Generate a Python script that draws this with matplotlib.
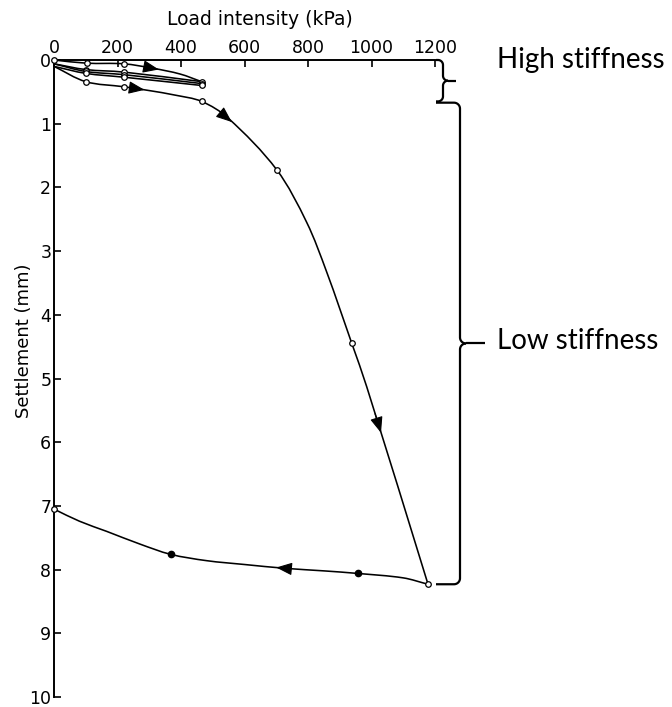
import numpy as np
import matplotlib
matplotlib.use("Agg")
import matplotlib.pyplot as plt
from matplotlib.lines import Line2D
from matplotlib.path import Path
from matplotlib.patches import PathPatch
from matplotlib.transforms import IdentityTransform

# ---- plate load test data: load intensity (kPa) vs settlement (mm) ----
# first loading
load_first = [0, 103, 220, 312, 397, 465]
settle_first = [0.00, 0.05, 0.06, 0.13, 0.22, 0.34]

# small unload / reload cycles
load_unload1 = [465, 220, 100, 0]
settle_unload1 = [0.34, 0.19, 0.15, 0.06]
load_reload1 = [0, 100, 220, 465]
settle_reload1 = [0.06, 0.18, 0.23, 0.37]
load_unload2 = [465, 220, 100, 0]
settle_unload2 = [0.40, 0.27, 0.21, 0.10]

# final reload and loading to peak
load_main = [0, 100, 220, 300, 380, 465, 548, 701, 796, 859, 938, 985, 1178]
settle_main = [0.10, 0.34, 0.42, 0.48, 0.55, 0.65, 0.91, 1.72, 2.55, 3.33,
               4.45, 5.13, 8.23]

# final unloading
load_unload = [1178, 1100, 956, 850, 728, 600, 481, 367, 271, 166, 80, 0]
settle_unload = [8.23, 8.13, 8.06, 8.02, 7.98, 7.92, 7.86, 7.76, 7.60, 7.40, 7.24, 7.05]

# readings shown with open / filled symbols
open_load = [0, 103, 220, 465, 465, 465, 100, 100, 100, 220, 220, 220,
             100, 220, 465, 701, 938, 1178, 0]
open_settle = [0.00, 0.05, 0.06, 0.34, 0.37, 0.40, 0.15, 0.18, 0.21, 0.19, 0.23, 0.27,
               0.34, 0.42, 0.65, 1.72, 4.45, 8.23, 7.05]
filled_load = [956, 367]
filled_settle = [8.06, 7.76]

# direction arrows: (curve, load at arrow tip)
arrow_marks = [("first", 330), ("main", 285), ("main", 560), ("main", 1030), ("unload", 700)]

# stiffness zones (settlement ranges, mm)
zone_high = [0.0, 0.65]
zone_low = [0.67, 8.23]
zone_labels = ["High stiffness", "Low stiffness"]

x_ticks = [0, 200, 400, 600, 800, 1000, 1200]
y_ticks = list(range(0, 11))

W, H = 672, 707
fig = plt.figure(figsize=(W / 100, H / 100), dpi=100)
ax = fig.add_axes([54 / W, 1 - 697 / H, (435 - 54) / W, 637 / H])
ax.set_xlim(0, 1200)
ax.set_ylim(10, 0)

lw = 1.15


def smooth_path(xs, ys):
    """Chord-length Hermite curve through the readings, as cubic Bezier segments."""
    p = np.column_stack([xs, ys]).astype(float)
    # work in screen-like units so both axes are weighted alike
    sx, sy = 381 / 1200, 64.0
    q = p * [sx, sy]
    d = np.linalg.norm(np.diff(q, axis=0), axis=1)
    d[d == 0] = 1e-6
    t = np.concatenate([[0], np.cumsum(d)])
    m = np.zeros_like(q)
    m[0] = (q[1] - q[0]) / d[0]
    m[-1] = (q[-1] - q[-2]) / d[-1]
    for i in range(1, len(q) - 1):
        m[i] = (q[i + 1] - q[i - 1]) / (t[i + 1] - t[i - 1])
    verts = [q[0]]
    codes = [Path.MOVETO]
    for i in range(len(q) - 1):
        h = d[i]
        verts += [q[i] + m[i] * h / 3, q[i + 1] - m[i + 1] * h / 3, q[i + 1]]
        codes += [Path.CURVE4] * 3
    verts = np.array(verts) / [sx, sy]
    return Path(verts, codes)


curves = {
    "first": (load_first, settle_first),
    "main": (load_main, settle_main),
    "unload": (load_unload, settle_unload),
}
for xs, ys in [(load_first, settle_first), (load_unload1, settle_unload1),
               (load_reload1, settle_reload1), (load_unload2, settle_unload2),
               (load_main, settle_main), (load_unload, settle_unload)]:
    ax.add_patch(PathPatch(smooth_path(xs, ys), facecolor="none", edgecolor="black",
                           lw=lw, clip_on=False, capstyle="round"))

ax.plot(open_load, open_settle, linestyle="none", marker="o", markersize=4,
        markerfacecolor="white", markeredgecolor="black", markeredgewidth=0.9,
        clip_on=False, zorder=5)
ax.plot(filled_load, filled_settle, linestyle="none", marker="o", markersize=4.5,
        markerfacecolor="black", markeredgecolor="black", clip_on=False, zorder=5)

# arrowheads drawn along the curve direction
for name, x_tip in arrow_marks:
    xs = np.asarray(curves[name][0], float)
    ys = np.asarray(curves[name][1], float)
    if xs[0] > xs[-1]:
        xs, ys = xs[::-1], ys[::-1]
        back = x_tip + 25
    else:
        back = x_tip - 25
    y_tip = np.interp(x_tip, xs, ys)
    y_back = np.interp(back, xs, ys)
    if y_tip - y_back > 0.3:
        # steep branch: step back along settlement instead
        y_back = y_tip - 0.3
        back = np.interp(y_back, ys, xs)
    ax.annotate("", xy=(x_tip, y_tip), xytext=(back, y_back),
                arrowprops=dict(arrowstyle="-|>,head_length=0.7,head_width=0.28",
                                color="black", lw=0.8, shrinkA=0, shrinkB=0,
                                mutation_scale=14), zorder=6)

ax.xaxis.tick_top()
ax.xaxis.set_label_position("top")
ax.set_xticks(x_ticks)
ax.set_yticks(y_ticks)
ax.spines["right"].set_visible(False)
ax.spines["bottom"].set_visible(False)
for s in ("top", "left"):
    ax.spines[s].set_linewidth(1.4)
ax.tick_params(axis="both", direction="in", length=5, width=1.2, labelsize=12.5,
               pad=2, colors="black")
ax.set_xlabel("Load intensity (kPa)", fontsize=13.5)
ax.xaxis.set_label_coords(0.54, 1.055)
ax.set_ylabel("Settlement (mm)", fontsize=13)
ax.yaxis.set_label_coords(-0.055, 0.56)


def brace(y_range, x_px, tail, tip, r=5, width=1.6):
    """Curly brace (opening left, point to the right) in pixel space."""
    p_a = ax.transData.transform((0, y_range[0]))[1]
    p_b = ax.transData.transform((0, y_range[1]))[1]
    top, bot = max(p_a, p_b), min(p_a, p_b)
    mid = 0.5 * (top + bot)
    t = np.linspace(0, np.pi / 2, 12)
    ux = np.concatenate([[x_px - tail], x_px - r + r * np.sin(t), x_px + r - r * np.cos(t)])
    uy = np.concatenate([[top], top - r + r * np.cos(t), mid + r - r * np.sin(t)])
    lx = np.concatenate([x_px + r - r * np.sin(t), x_px - r + r * np.cos(t), [x_px - tail]])
    ly = np.concatenate([mid - r + r * np.cos(t), bot + r - r * np.sin(t), [bot]])
    tr = IdentityTransform()
    for xs, ys in [(ux, uy), (lx, ly), ([x_px + r, x_px + tip], [mid, mid])]:
        fig.add_artist(Line2D(xs, ys, transform=tr, color="black", lw=width,
                              solid_capstyle="butt", solid_joinstyle="round"))
    return mid


right_px = ax.transAxes.transform((1, 0))[0]
mid_h = brace(zone_high, right_px + 8, 7, 13, r=5)
mid_l = brace(zone_low, right_px + 25, 24, 25, r=6)

fig.text(497 / W, (mid_h + 21) / H, zone_labels[0], fontfamily="Lato", fontsize=20,
         va="center", ha="left")
fig.text(497 / W, (mid_l + 2) / H, zone_labels[1], fontfamily="Lato", fontsize=20,
         va="center", ha="left")

fig.savefig("out.png", dpi=100)
